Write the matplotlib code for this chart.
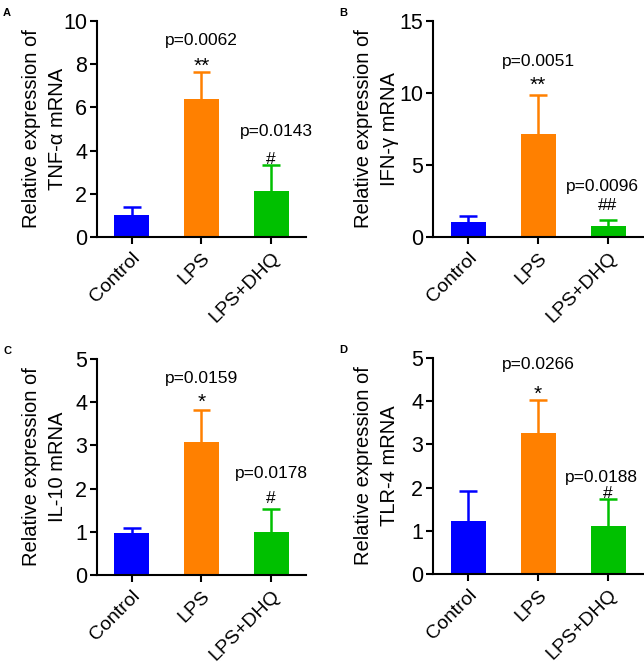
import matplotlib
matplotlib.use("Agg")
import matplotlib.pyplot as plt

plt.rcParams['font.family'] = ['Liberation Sans', 'DejaVu Sans']

groups = ["Control", "LPS", "LPS+DHQ"]
colors = ["#0000FF", "#FF8000", "#00C000"]

tnf_mean = [1.02, 6.37, 2.15]
tnf_err = [0.35, 1.28, 1.20]
ifn_mean = [1.04, 7.13, 0.74]
ifn_err = [0.44, 2.73, 0.46]
il10_mean = [0.98, 3.07, 0.99]
il10_err = [0.10, 0.75, 0.54]
tlr4_mean = [1.22, 3.27, 1.12]
tlr4_err = [0.70, 0.76, 0.61]

panels = [
    dict(letter="A", mean=tnf_mean, err=tnf_err, ylabel="Relative expression of\nTNF-α mRNA",
         ylim=10, yticks=[0, 2, 4, 6, 8, 10],
         p1="p=0.0062", p1y=8.89, s1="**", s1y=7.66, p2="p=0.0143", p2y=4.66, p2x=2.07, s2="#", s2y=3.40,
         rect=[97, 21, 306, 237], lab=30),
    dict(letter="B", mean=ifn_mean, err=ifn_err, ylabel="Relative expression of\nIFN-γ mRNA",
         ylim=15, yticks=[0, 5, 10, 15],
         p1="p=0.0051", p1y=11.9, s1="**", s1y=10.12, p2="p=0.0096", p2y=3.2, p2x=1.92, s2="##", s2y=1.875,
         rect=[433, 21, 643, 237], lab=34),
    dict(letter="C", mean=il10_mean, err=il10_err, ylabel="Relative expression of\nIL-10 mRNA",
         ylim=5, yticks=[0, 1, 2, 3, 4, 5],
         p1="p=0.0159", p1y=4.44, s1="*", s1y=3.86, p2="p=0.0178", p2y=2.25, p2x=2.01, s2="#", s2y=1.66,
         rect=[97, 359, 306, 575], lab=30),
    dict(letter="D", mean=tlr4_mean, err=tlr4_err, ylabel="Relative expression of\nTLR-4 mRNA",
         ylim=5, yticks=[0, 1, 2, 3, 4, 5],
         p1="p=0.0266", p1y=4.74, s1="*", s1y=4.03, p2="p=0.0188", p2y=2.12, p2x=1.90, s2="#", s2y=1.755,
         rect=[433, 358, 643, 574], lab=34),
]

W, H = 644, 664
fig = plt.figure(figsize=(W / 100, H / 100), dpi=100)

for p in panels:
    l, t, r, b = p["rect"]
    ax = fig.add_axes([l / W, 1 - b / H, (r - l) / W, (b - t) / H])
    x = list(range(len(groups)))
    ax.bar(x, p["mean"], width=0.5, color=colors, zorder=2)
    tops = [m + e for m, e in zip(p["mean"], p["err"])]
    ax.vlines(x, p["mean"], tops, colors=colors, linewidth=1.8, zorder=1)
    ax.hlines(tops, [xi - 0.125 for xi in x], [xi + 0.125 for xi in x], colors=colors,
              linewidth=1.8, zorder=1)
    ax.set_xlim(-0.5, 2.5)
    ax.set_ylim(0, p["ylim"])
    ax.set_yticks(p["yticks"])
    ax.set_xticks(x)
    ax.set_xticklabels(groups, rotation=45, ha="right", rotation_mode="anchor")
    ax.spines["top"].set_visible(False)
    ax.spines["right"].set_visible(False)
    for s in ("left", "bottom"):
        ax.spines[s].set_linewidth(1.5)
    ax.tick_params(axis="both", width=1.5, length=5, direction="out")
    ax.tick_params(axis="y", labelsize=15.5, pad=2)
    ax.tick_params(axis="x", labelsize=14, pad=4)
    ax.set_ylabel(p["ylabel"], fontsize=14.5, linespacing=1.45)
    ax.yaxis.set_label_coords(-p["lab"] / (r - l), 0.5)
    ax.text(1, p["p1y"], p["p1"], ha="center", va="baseline", fontsize=12.5, clip_on=False)
    ax.text(1, p["s1y"], p["s1"], ha="center", va="baseline", fontsize=15, clip_on=False)
    ax.text(p["p2x"], p["p2y"], p["p2"], ha="center", va="baseline", fontsize=12.5, clip_on=False)
    ax.text(2, p["s2y"], p["s2"], ha="center", va="baseline", fontsize=12.5, clip_on=False)
    fig.text((l - 94) / W, 1 - (t - 13) / H, p["letter"], fontsize=8, fontweight="bold",
             ha="left", va="top")

fig.savefig("out.png", dpi=100)
